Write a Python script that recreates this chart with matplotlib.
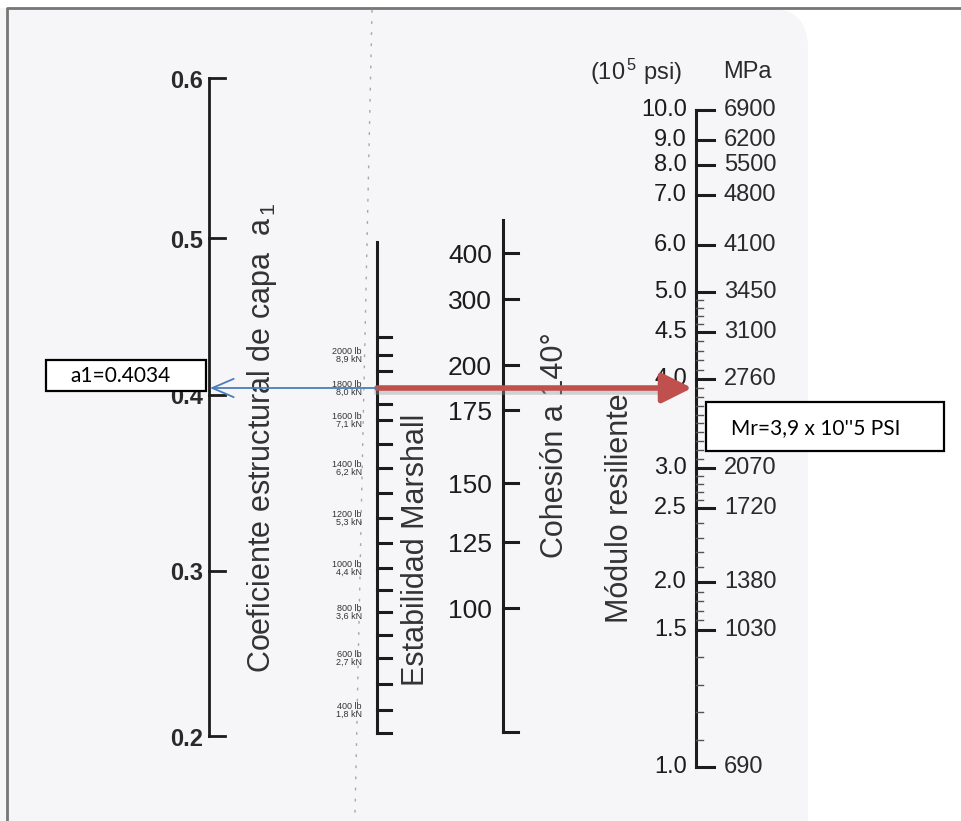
import numpy as np
import matplotlib
matplotlib.use("Agg")
import matplotlib.pyplot as plt
from matplotlib.patches import Rectangle, FancyBboxPatch

plt.rcParams["font.family"] = ["Liberation Sans", "DejaVu Sans"]
plt.rcParams["mathtext.fontset"] = "custom"
plt.rcParams["mathtext.rm"] = "Liberation Sans"
plt.rcParams["mathtext.it"] = "Liberation Sans"

# datos del nomograma
a1_valores = [0.6, 0.5, 0.4, 0.3, 0.2]
marshall_lb = [2000, 1800, 1600, 1400, 1200, 1000, 800, 600, 400]
marshall_kn = ["8,9", "8,0", "7,1", "6,2", "5,3", "4,4", "3,6", "2,7", "1,8"]
marshall_marcas = list(range(300, 2200, 100))
cohesion_valores = [400, 300, 200, 175, 150, 125, 100]
mr_psi = [10.0, 9.0, 8.0, 7.0, 6.0, 5.0, 4.5, 4.0, 3.0, 2.5, 2.0, 1.5, 1.0]
mr_mpa = [6900, 6200, 5500, 4800, 4100, 3450, 3100, 2760, 2070, 1720, 1380, 1030, 690]
mr_marcas = np.round(np.arange(1.0, 5.01, 0.1), 1)

estabilidad = 1800
a1_resultado = 0.4034
mr_resultado = 3.9

# escalas (valor -> altura en la figura)
esc_a1 = ([0.2, 0.3, 0.4, 0.5, 0.6], [736, 571, 395, 238, 78])
esc_marshall = ([300, 400, 600, 800, 1000, 1200, 1400, 1600, 1800, 2000, 2100],
                [733, 710, 658, 612, 568, 518, 468, 420, 388, 355, 337])
esc_cohesion = ([100, 125, 150, 175, 200, 300, 400],
                [608, 542, 483, 410, 365, 299, 253])
esc_mr = ([1.0, 1.5, 2.0, 2.5, 3.0, 4.0, 4.5, 5.0, 6.0, 7.0, 8.0, 9.0, 10.0],
          [767, 630, 582, 508, 468, 379, 332, 292, 245, 195, 165, 140, 110])


def pos(esc, v):
    return np.interp(v, esc[0], esc[1])


x_a1, x_ms, x_co, x_mr = 209, 377, 503, 696
negro = "#1c1c1c"

fig = plt.figure(figsize=(9.62, 8.21), dpi=100)
ax = fig.add_axes([0, 0, 1, 1])
ax.set_xlim(0, 962)
ax.set_ylim(821, 0)
ax.axis("off")

# hoja escaneada y marco
ax.add_patch(FancyBboxPatch((-40, 8), 848, 860, boxstyle="round,pad=0,rounding_size=40",
                            fc="#f6f6f8", ec="none", zorder=0))
ax.plot([7, 7, 962], [821, 8, 8], color="#767676", lw=2, zorder=1)
ax.plot([372, 363, 355], [10, 430, 815], color="#a8a8a8", lw=1, ls=(0, (2, 6)), zorder=1)

# eje a1
ax.plot([x_a1, x_a1], [pos(esc_a1, 0.6), pos(esc_a1, 0.2)], color=negro, lw=2)
for v in a1_valores:
    y = pos(esc_a1, v)
    ax.plot([x_a1, x_a1 + 16], [y, y], color=negro, lw=2)
    ax.text(x_a1 - 6, y + 3, f"{v:.1f}", ha="right", va="center", fontsize=17,
            weight="bold", color="#2a2a2a")
ax.text(270, 438, "Coeficiente estructural de capa  a$_{\\,1}$", rotation=90, rotation_mode="anchor",
        ha="center", va="baseline", fontsize=22, color="#333333")

# eje estabilidad Marshall
ax.plot([x_ms, x_ms], [242, pos(esc_marshall, 300)], color=negro, lw=2.2)
for v in marshall_marcas:
    y = pos(esc_marshall, v)
    ax.plot([x_ms, x_ms + 14], [y, y], color=negro, lw=2.2)
for lb, kn in zip(marshall_lb, marshall_kn):
    y = pos(esc_marshall, lb)
    ax.text(362, y, f"{lb} lb\n{kn} kN", ha="right", va="center", fontsize=6.5,
            linespacing=0.85, color="#333333")
ax.text(424, 550, "Estabilidad Marshall", rotation=90, rotation_mode="anchor",
        ha="center", va="baseline", fontsize=22, color="#333333")

# eje cohesion
ax.plot([x_co, x_co], [220, 732], color=negro, lw=2.2)
ax.plot([x_co, x_co + 15], [732, 732], color=negro, lw=2.2)
for v in cohesion_valores:
    y = pos(esc_cohesion, v)
    ax.plot([x_co, x_co + 15], [y, y], color=negro, lw=2.2)
    ax.text(x_co - 11, y + 3, str(v), ha="right", va="center", fontsize=19, color=negro)
ax.text(563, 445, "Cohesión a 140°", rotation=90, rotation_mode="anchor",
        ha="center", va="baseline", fontsize=22, color="#333333")

# eje modulo resiliente
ax.plot([x_mr, x_mr], [pos(esc_mr, 10.0), pos(esc_mr, 1.0)], color=negro, lw=2.2)
for v in mr_marcas:
    y = pos(esc_mr, v)
    ax.plot([x_mr, x_mr + 7], [y, y], color="#555555", lw=1)
for p, m in zip(mr_psi, mr_mpa):
    y = pos(esc_mr, p)
    ax.plot([x_mr, x_mr + 18], [y, y], color=negro, lw=2.2)
    ax.text(x_mr - 9, y, f"{p:.1f}", ha="right", va="center", fontsize=17, color=negro)
    ax.text(x_mr + 28, y, str(m), ha="left", va="center", fontsize=17, color="#2a2a2a")
ax.text(682, 72, "(10$^{\\,5}$ psi)", ha="right", va="center", fontsize=17, color="#2a2a2a")
ax.text(723, 72, "MPa", ha="left", va="center", fontsize=17, color="#2a2a2a")
ax.text(628, 508, "Módulo resiliente", rotation=90, rotation_mode="anchor",
        ha="center", va="baseline", fontsize=22, color="#333333")

# lectura del nomograma
y_lec = pos(esc_marshall, estabilidad)
ax.plot([x_ms, 668], [y_lec + 4, y_lec + 4], color="#999999", lw=4, alpha=0.4, zorder=4)
ax.annotate("", xy=(x_mr - 4, y_lec), xytext=(x_ms, y_lec),
            arrowprops=dict(arrowstyle="-|>,head_length=1.3,head_width=0.65", mutation_scale=14,
                            lw=4, color="#C0504D", shrinkA=0, shrinkB=0), zorder=5)
ax.annotate("", xy=(x_a1 + 1, y_lec), xytext=(x_ms, y_lec),
            arrowprops=dict(arrowstyle="->,head_length=1.4,head_width=0.6", mutation_scale=11,
                            lw=1.3, color="#4A7EBB", shrinkA=0, shrinkB=0), zorder=5)

ax.add_patch(Rectangle((46, 360), 160, 31, fc="white", ec="black", lw=1.6, zorder=6))
ax.text(70, 376, f"a1={a1_resultado}", ha="left", va="center", fontsize=15,
        family=["Lato", "DejaVu Sans"], zorder=7)
ax.add_patch(Rectangle((706, 402), 238, 49, fc="white", ec="black", lw=1.6, zorder=6))
ax.text(731, 428, f"Mr={mr_resultado:.1f}".replace(".", ",") + " x 10''5 PSI", ha="left",
        va="center", fontsize=15, family=["Lato", "DejaVu Sans"], zorder=7)

fig.savefig("out.png", dpi=100)
